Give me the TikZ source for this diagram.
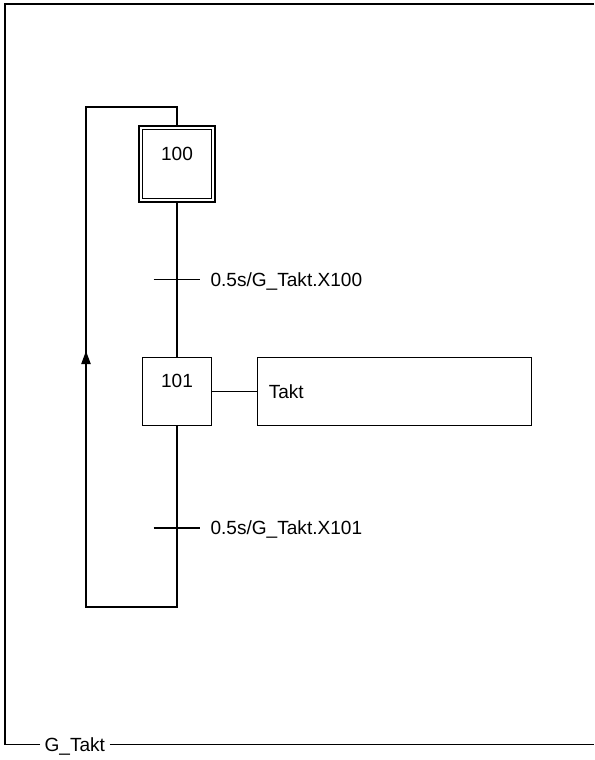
\documentclass[tikz,border=0pt]{standalone}
\usepackage{fontspec}
\setmainfont{Liberation Sans}
\usetikzlibrary{positioning,calc,arrows.meta}
\begin{document}
\begin{tikzpicture}[x=0.75pt,y=-0.75pt,line width=0.85pt,font=\fontsize{14.3}{16}\selectfont,
	stepbox/.style={draw,minimum width=51.5pt,minimum height=51.5pt,inner sep=0pt},
	initbox/.style={draw,minimum width=57pt,minimum height=57pt,inner sep=0pt},
	stepnum/.style={anchor=north,inner sep=0pt,yshift=-12.8pt},
	actbox/.style={draw,minimum width=205.5pt,minimum height=51pt,text width=189pt,align=left,inner xsep=8pt},
	cond/.style={inner sep=0pt,text depth=0pt,anchor=west}]
\useasboundingbox (0,0) rectangle (594,760);
% Rahmen
\node[anchor=west,inner xsep=3pt,text depth=0pt] (gtakt) at (40,744.5) {G\_Takt};
\draw (gtakt.west) -- (5,744.5) -- (5,4) -- (594,4);
\draw (gtakt.east) -- (594,744.5);
% Schritte
\node[initbox] (s100) at (177,164) {};
\node[stepbox,label={[stepnum]north:100}] (s100i) at (177,164) {};
\node[stepbox,label={[stepnum]north:101}] (s101) at (177,391.5) {};
\node[actbox,right=34pt of s101] (takt) {Takt};
\draw (s101) -- (takt);
% Transitionen
\coordinate (t1) at ($(s100.south)!0.5!(s101.north)$);
\coordinate (t2) at (177,528);
\coordinate (back) at (86,607);
\coordinate (top) at (86,107);
\draw (s100) -- (s101);
\draw (s101.south) |- (back) -- (top) -| (s100.north);
\draw[-{Triangle[length=9.75pt,width=7pt]}] (back) -- ($(back)!0.512!(top)$);
\foreach \t/\c in {t1/100,t2/101}{
	\draw ([xshift=-17.6pt]\t) -- ([xshift=17.6pt]\t);
	\node[cond,right=24.75pt of \t] (c\c) {0.5s/G\_Takt.X\c};
}
\end{tikzpicture}
\end{document}
